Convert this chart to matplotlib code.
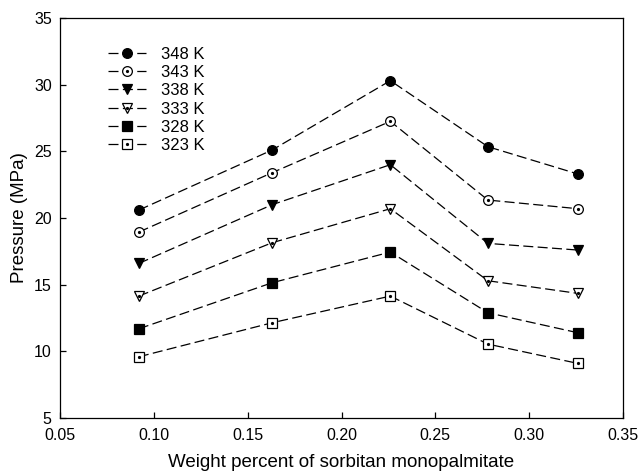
import matplotlib.pyplot as plt
from matplotlib.legend_handler import HandlerTuple

plt.rcParams['font.family'] = ['Liberation Sans', 'DejaVu Sans']

# data
wt = [0.092, 0.163, 0.226, 0.278, 0.326]
labels = ['348 K', '343 K', '338 K', '333 K', '328 K', '323 K']
p348 = [20.6, 25.1, 30.3, 25.35, 23.3]
p343 = [18.95, 23.4, 27.25, 21.35, 20.7]
p338 = [16.6, 21.0, 24.0, 18.1, 17.6]
p333 = [14.15, 18.15, 20.7, 15.3, 14.35]
p328 = [11.7, 15.15, 17.45, 12.9, 11.4]
p323 = [9.6, 12.15, 14.15, 10.55, 9.1]

series = [p348, p343, p338, p333, p328, p323]
markers = ['o', 'o', 'v', 'v', 's', 's']
filled = [True, False, True, False, True, False]

fig = plt.figure(figsize=(6.39, 4.73), dpi=100)
ax = fig.add_axes([0.094, 0.116, 0.881, 0.846])

handles = []
for y, m, f, lab in zip(series, markers, filled, labels):
    ln, = ax.plot(wt, y, color='black', lw=0.9, dashes=(8, 3.5), marker=m,
                  markersize=7, markerfacecolor='black' if f else 'white',
                  markeredgecolor='black', markeredgewidth=0.9, zorder=3)
    if f:
        handles.append(ln)
    else:
        dot, = ax.plot(wt, y, ls='none', marker='o', markersize=1.3,
                       color='black', zorder=4)
        handles.append((ln, dot))

ax.legend(handles, labels, loc='upper left', bbox_to_anchor=(0.058, 0.966),
          frameon=False, fontsize=12, handlelength=2.3, handletextpad=0.9,
          labelspacing=0.2, handler_map={tuple: HandlerTuple(ndivide=1)})

ax.set_xlim(0.05, 0.35)
ax.set_ylim(5, 35)
ax.set_xticks([0.05, 0.10, 0.15, 0.20, 0.25, 0.30, 0.35])
ax.set_xticklabels(['0.05', '0.10', '0.15', '0.20', '0.25', '0.30', '0.35'])
ax.set_yticks([5, 10, 15, 20, 25, 30, 35])
ax.tick_params(direction='in', length=4, width=0.9, labelsize=11.5)
ax.tick_params(axis='x', pad=7)
ax.tick_params(axis='y', pad=6)
for s in ax.spines.values():
    s.set_linewidth(0.9)

ax.set_xlabel('Weight percent of sorbitan monopalmitate', fontsize=13.5, labelpad=8)
ax.set_ylabel('Pressure (MPa)', fontsize=13.5, labelpad=4)

fig.savefig('out.png', dpi=100)
